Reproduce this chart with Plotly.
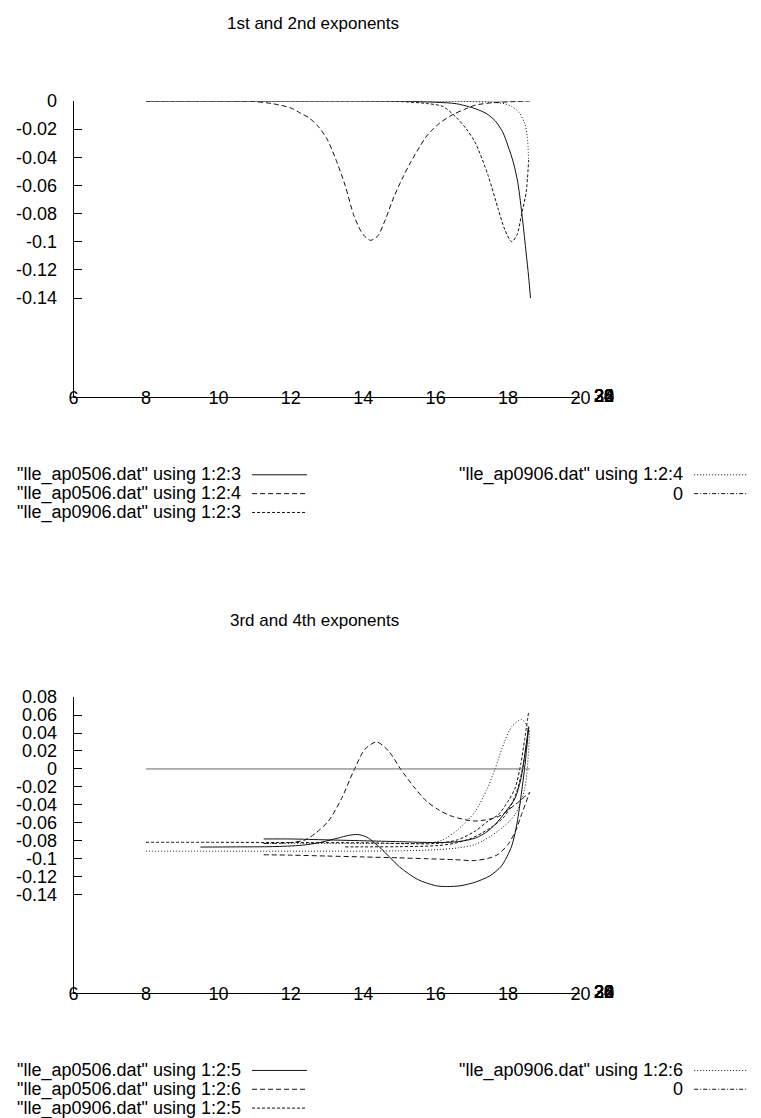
import plotly.graph_objects as go

# ---------------- upper panel: 1st and 2nd exponents ----------------
ap0506_c3_x = [8, 10, 12, 14, 15, 16, 16.57, 17.1, 17.4, 17.64, 17.85, 18.0, 18.15, 18.27, 18.4, 18.5, 18.57, 18.62]
ap0506_c3_z = [0, 0, 0, 0, -0.0002, -0.001, -0.002, -0.0056, -0.009, -0.014, -0.022, -0.032, -0.044, -0.058, -0.084, -0.108, -0.125, -0.140]

ap0506_c4_x = [8, 10, 11, 11.5, 12, 12.25, 12.5, 12.75, 13.0, 13.25, 13.5, 13.75, 14.0, 14.2, 14.4, 14.6, 14.85,
               15.1, 15.3, 15.55, 15.75, 16.1, 16.47, 16.8, 17.1, 17.5, 17.8, 18.2, 18.6]
ap0506_c4_z = [0, 0, -0.0005, -0.002, -0.005, -0.0085, -0.012, -0.018, -0.027, -0.042, -0.060, -0.082, -0.095, -0.099,
               -0.096, -0.085, -0.068, -0.054, -0.044, -0.033, -0.025, -0.016, -0.0098, -0.006, -0.003, -0.0015, -0.001,
               -0.0005, 0]

ap0906_c3_x = [8, 12, 15, 15.8, 16.2, 16.56, 16.85, 17.1, 17.45, 17.73, 17.92, 18.1, 18.25, 18.37, 18.5, 18.57]
ap0906_c3_z = [0, 0, -0.0005, -0.002, -0.004, -0.0115, -0.02, -0.030, -0.053, -0.077, -0.092, -0.100, -0.095, -0.081,
               -0.065, -0.042]

ap0906_c4_x = [8, 12, 16, 17, 17.5, 17.9, 18.1, 18.3, 18.46, 18.53, 18.57]
ap0906_c4_z = [0, 0, 0, -0.0005, -0.001, -0.002, -0.004, -0.008, -0.016, -0.025, -0.042]

zero_x = [8, 18.6]
zero_z = [0, 0]

# ---------------- lower panel: 3rd and 4th exponents ----------------
ap0506_c5_a_x = [9.5, 10.5, 11.5, 12.3, 12.8, 13.3, 13.6, 13.85, 14.1, 14.5, 15.0, 15.5, 16.0, 16.3, 16.7, 17.1, 17.5,
                 17.82, 18.1, 18.25, 18.37, 18.47, 18.57]
ap0506_c5_a_z = [-0.087, -0.0868, -0.0865, -0.085, -0.082, -0.077, -0.074, -0.073, -0.076, -0.089, -0.109, -0.123,
                 -0.130, -0.131, -0.130, -0.126, -0.119, -0.108, -0.086, -0.060, -0.027, 0.005, 0.046]
ap0506_c5_b_x = [11.25, 12, 13, 14, 15, 16, 16.6, 17.1, 17.45, 17.73, 18.0, 18.19, 18.35, 18.46, 18.57]
ap0506_c5_b_z = [-0.078, -0.078, -0.079, -0.080, -0.081, -0.082, -0.081, -0.077, -0.069, -0.058, -0.044, -0.033,
                 -0.012, 0.015, 0.047]

ap0506_c6_a_x = [11.25, 12, 12.4, 12.7, 13.04, 13.4, 13.76, 14.05, 14.37, 14.7, 15.03, 15.4, 15.75, 16.1, 16.47, 17.1,
                 17.73, 18.19, 18.6]
ap0506_c6_a_z = [-0.083, -0.082, -0.079, -0.071, -0.058, -0.033, 0.0, 0.022, 0.030, 0.020, 0.0, -0.020, -0.036,
                 -0.046, -0.053, -0.058, -0.053, -0.040, -0.026]
ap0506_c6_b_x = [11.25, 12, 13, 14, 15, 15.75, 16.5, 17.1, 17.5, 17.73, 18.0, 18.2, 18.37, 18.6]
ap0506_c6_b_z = [-0.0956, -0.096, -0.097, -0.098, -0.099, -0.100, -0.101, -0.102, -0.099, -0.095, -0.084, -0.070,
                 -0.051, -0.026]

ap0906_c5_a_x = [8, 10, 12, 14, 16, 16.6, 17.1, 17.45, 17.73, 18.0, 18.19, 18.35, 18.46, 18.57]
ap0906_c5_a_z = [-0.0817, -0.0817, -0.082, -0.0822, -0.083, -0.079, -0.069, -0.058, -0.051, -0.036, -0.022, 0.005,
                 0.033, 0.064]
ap0906_c5_b_x = [13.5, 14, 15, 16, 16.5, 17, 17.5, 17.9, 18.2, 18.4, 18.57]
ap0906_c5_b_z = [-0.0868, -0.0868, -0.0866, -0.0855, -0.083, -0.077, -0.066, -0.053, -0.030, 0.0, 0.047]

ap0906_c6_a_x = [8, 10, 12, 14, 15, 16, 16.6, 17.1, 17.73, 18.19, 18.46, 18.6]
ap0906_c6_a_z = [-0.0916, -0.0916, -0.0916, -0.0915, -0.0912, -0.090, -0.088, -0.084, -0.069, -0.051, -0.022, 0.044]
ap0906_c6_b_x = [11.25, 13, 14.5, 15.5, 15.9, 16.2, 16.6, 17.1, 17.4, 17.64, 17.9, 18.1, 18.37, 18.5, 18.57]
ap0906_c6_b_z = [-0.083, -0.083, -0.083, -0.083, -0.082, -0.079, -0.068, -0.047, -0.024, 0.0, 0.030, 0.047, 0.055,
                 0.050, 0.040]

# axis ticks
x_ticks = [6, 8, 10, 12, 14, 16, 18, 20]
y_ticks_top = [0, -0.02, -0.04, -0.06, -0.08, -0.1, -0.12, -0.14]
y_ticks_bot = [0.08, 0.06, 0.04, 0.02, 0, -0.02, -0.04, -0.06, -0.08, -0.1, -0.12, -0.14]
y_axis_labels = ["20", "22", "24", "26", "28", "30", "32", "34"]

top_labels = ['"lle_ap0506.dat" using 1:2:3', '"lle_ap0506.dat" using 1:2:4',
              '"lle_ap0906.dat" using 1:2:3', '"lle_ap0906.dat" using 1:2:4', '0']
bot_labels = ['"lle_ap0506.dat" using 1:2:5', '"lle_ap0506.dat" using 1:2:6',
              '"lle_ap0906.dat" using 1:2:5', '"lle_ap0906.dat" using 1:2:6', '0']

W, H = 761, 1118
FONT = "Liberation Sans, Arial, Helvetica, sans-serif"
INK = "#111111"

DASH = {
    "solid": "solid",
    "dash": "5px,3px",
    "short": "3px,2px",
    "dot": "1px,2px",
    "dashdot": "4px,2px,1px,2px",
}
styles = ["solid", "dash", "short", "dot", "dashdot"]


def join(*segs):
    xs, zs = [], []
    for sx, sz in segs:
        if xs:
            xs.append(None)
            zs.append(None)
        xs.extend(sx)
        zs.extend(sz)
    return xs, zs


def py(p):
    """pixel row -> paper y"""
    return 1 - p / H


def px(p):
    """pixel column -> paper x"""
    return p / W


fig = go.Figure()

top_series = [
    join((ap0506_c3_x, ap0506_c3_z)),
    join((ap0506_c4_x, ap0506_c4_z)),
    join((ap0906_c3_x, ap0906_c3_z)),
    join((ap0906_c4_x, ap0906_c4_z)),
]
bot_series = [
    join((ap0506_c5_a_x, ap0506_c5_a_z), (ap0506_c5_b_x, ap0506_c5_b_z)),
    join((ap0506_c6_a_x, ap0506_c6_a_z), (ap0506_c6_b_x, ap0506_c6_b_z)),
    join((ap0906_c5_a_x, ap0906_c5_a_z), (ap0906_c5_b_x, ap0906_c5_b_z)),
    join((ap0906_c6_a_x, ap0906_c6_a_z), (ap0906_c6_b_x, ap0906_c6_b_z)),
]

for (xs, zs), name, st in zip(top_series, top_labels, styles):
    fig.add_trace(go.Scatter(x=xs, y=zs, mode="lines", name=name, xaxis="x", yaxis="y",
                             line=dict(color=INK, width=1, dash=DASH[st], shape="spline", smoothing=0.8),
                             connectgaps=False, showlegend=False))
fig.add_trace(go.Scatter(x=zero_x, y=zero_z, mode="lines", name="0", xaxis="x", yaxis="y",
                         line=dict(color="#555555", width=1), showlegend=False))

for (xs, zs), name, st in zip(bot_series, bot_labels, styles):
    fig.add_trace(go.Scatter(x=xs, y=zs, mode="lines", name=name, xaxis="x2", yaxis="y2",
                             line=dict(color=INK, width=1, dash=DASH[st], shape="spline", smoothing=0.8),
                             connectgaps=False, showlegend=False))
fig.add_trace(go.Scatter(x=zero_x, y=zero_z, mode="lines", name="0", xaxis="x2", yaxis="y2",
                         line=dict(color="#666666", width=1), showlegend=False))

x_dom = [px(70), px(587)]
common_x = dict(range=[6, 20], domain=x_dom, tickvals=x_ticks, ticks="", showline=True, linecolor="black",
                linewidth=1, showgrid=False, zeroline=False, ticklabelstandoff=-16,
                tickfont=dict(family=FONT, size=18, color="black"))
common_y = dict(showline=True, linecolor="black", linewidth=1, showgrid=False, zeroline=False,
                ticks="inside", ticklen=8, tickcolor="black", ticklabelstandoff=12,
                tickfont=dict(family=FONT, size=18, color="black"))

fig.update_layout(
    width=W, height=H, margin=dict(l=0, r=0, t=0, b=0),
    paper_bgcolor="white", plot_bgcolor="rgba(0,0,0,0)", showlegend=False,
    xaxis=dict(anchor="y", **common_x),
    yaxis=dict(anchor="x", range=[-0.2104, 0], domain=[py(390.7), py(91.7)],
               tickvals=y_ticks_top, ticktext=[f"{v:g}" for v in y_ticks_top], **common_y),
    xaxis2=dict(anchor="y2", **common_x),
    yaxis2=dict(anchor="x2", range=[-0.25, 0.08], domain=[py(992.3), py(693.3)],
                tickvals=y_ticks_bot, ticktext=[f"{v:g}" for v in y_ticks_bot], **common_y),
)

ann = []
shapes = []
TXT = dict(family=FONT, size=18, color="black")
TITLE = dict(family=FONT, size=17, color="black")

# titles
ann.append(dict(text="1st and 2nd exponents", x=px(314), y=py(14), xref="paper", yref="paper",
                xanchor="center", yanchor="middle", showarrow=False, font=TITLE))
ann.append(dict(text="3rd and 4th exponents", x=px(316), y=py(616), xref="paper", yref="paper",
                xanchor="center", yanchor="middle", showarrow=False, font=TITLE))

# collapsed depth-axis labels piled up past the end of the x axis
for base in [390.7, 992.3]:
    for t in y_axis_labels:
        ann.append(dict(text=t, x=px(611), y=py(base - 1), xref="paper", yref="paper", xanchor="center",
                        yanchor="middle", showarrow=False, font=TXT))


# keys
def key(labels, rows):
    slots = [(243, 252, 308, rows[0]), (243, 252, 308, rows[1]), (243, 252, 308, rows[2]),
             (694, 703, 758, rows[0]), (694, 703, 758, rows[1])]
    for lab, st, (tx, x0, x1, yy) in zip(labels, styles, slots):
        ann.append(dict(text=lab, x=px(tx), y=py(yy), xref="paper", yref="paper", xanchor="right",
                        yanchor="middle", showarrow=False, font=TXT))
        shapes.append(dict(type="line", xref="paper", yref="paper", x0=px(x0), x1=px(x1), y0=py(yy), y1=py(yy),
                           line=dict(color=INK, width=1, dash=DASH[st])))


key(top_labels, [469, 488, 507])
key(bot_labels, [1070, 1089, 1108])

fig.update_layout(annotations=ann, shapes=shapes)
fig.write_html("out.html")
